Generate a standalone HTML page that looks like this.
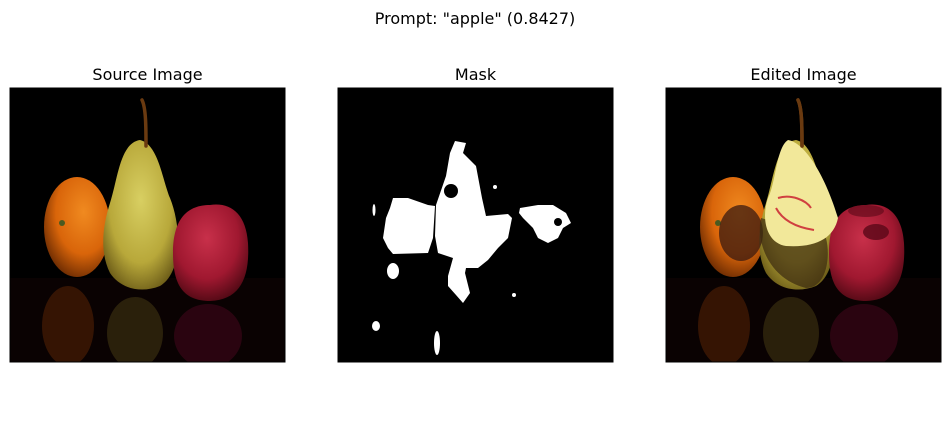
<!DOCTYPE html>
<html><head><meta charset="utf-8"><style>
html,body{margin:0;padding:0;background:#fff;width:950px;height:427px;overflow:hidden}
svg{display:block}
text{font-family:"DejaVu Sans","Liberation Sans",sans-serif;fill:#000}
</style></head><body>
<svg width="950" height="427" viewBox="0 0 950 427">
<defs>
<clipPath id="clp"><rect x="0" y="0" width="275" height="274"/></clipPath>
<radialGradient id="gOr" cx="0.6" cy="0.35" r="0.7"><stop offset="0" stop-color="#f08a20"/><stop offset="0.6" stop-color="#d9650a"/><stop offset="1" stop-color="#6a2a02"/></radialGradient>
<radialGradient id="gPe" cx="0.5" cy="0.4" r="0.7"><stop offset="0" stop-color="#d8cf62"/><stop offset="0.6" stop-color="#b8a83a"/><stop offset="1" stop-color="#5a4a10"/></radialGradient>
<radialGradient id="gAp" cx="0.45" cy="0.35" r="0.7"><stop offset="0" stop-color="#c8304a"/><stop offset="0.6" stop-color="#a01830"/><stop offset="1" stop-color="#4a0812"/></radialGradient>
<g id="fruits">
<rect x="0" y="0" width="275" height="275" fill="#000"/>
<rect x="0" y="190" width="275" height="85" fill="#0a0202"/>
<ellipse cx="58" cy="238" rx="26" ry="40" fill="#5a2406" opacity="0.55"/>
<ellipse cx="125" cy="245" rx="28" ry="36" fill="#4a3e14" opacity="0.5"/>
<ellipse cx="198" cy="248" rx="34" ry="32" fill="#40061a" opacity="0.6"/>
<ellipse cx="67" cy="139" rx="33" ry="50" fill="url(#gOr)"/>
<circle cx="52" cy="135" r="3" fill="#4a5a20"/>
<path d="M130,52 C148,56 152,90 160,110 C172,140 172,185 150,198 C130,206 110,200 100,185 C90,165 92,140 100,115 C108,90 110,55 130,52 Z" fill="url(#gPe)"/>
<path d="M132,12 C136,20 136,40 136,58" stroke="#6a3a10" stroke-width="3.5" fill="none" stroke-linecap="round"/>
<path d="M200,117 C220,114 236,125 238,155 C240,190 230,212 200,213 C172,213 163,195 163,165 C163,130 178,117 200,117 Z" fill="url(#gAp)"/>
</g>
</defs>

<text x="475" y="24" font-size="16" text-anchor="middle">Prompt: "apple" (0.8427)</text>

<text x="147.5" y="80" font-size="16" text-anchor="middle">Source Image</text>
<g transform="translate(10,88)">
<g clip-path="url(#clp)"><use href="#fruits"/></g>
<rect x="0" y="0" width="275" height="274" fill="none" stroke="#000" stroke-width="1"/>
</g>

<text x="475.5" y="80" font-size="16" text-anchor="middle">Mask</text>
<g transform="translate(338,88)">
<rect x="0" y="0" width="275" height="274" fill="#000"/>
<g fill="#fff">
<path d="M117,53 L128,55 L125,65 L138,78 L144,110 L148,128 L170,126 L174,130 L170,150 L160,160 L150,172 L140,180 L128,180 L127,185 L132,205 L125,215 L118,207 L110,198 L110,188 L115,170 L100,165 L97,148 L98,117 L108,88 L112,65 Z"/>
<path d="M55,110 L70,110 L90,117 L97,118 L95,150 L90,165 L55,166 L50,160 L45,150 L48,130 L52,120 Z"/>
<path d="M182,120 L200,117 L215,117 L228,125 L233,135 L225,140 L220,150 L210,155 L200,150 L195,140 L185,130 L181,125 Z"/>
<ellipse cx="55" cy="183" rx="6" ry="8"/>
<ellipse cx="38" cy="238" rx="4" ry="5"/>
<ellipse cx="99" cy="255" rx="3" ry="12"/>
<ellipse cx="36" cy="122" rx="1.5" ry="6"/>
<circle cx="157" cy="99" r="2"/>
<circle cx="176" cy="207" r="2"/>
</g>
<circle cx="113" cy="103" r="7" fill="#000"/>
<circle cx="220" cy="134" r="4" fill="#000"/>
<rect x="0" y="0" width="275" height="274" fill="none" stroke="#000" stroke-width="1"/>
</g>

<text x="803.5" y="80" font-size="16" text-anchor="middle">Edited Image</text>
<g transform="translate(666,88)">
<g clip-path="url(#clp)">
<use href="#fruits"/>
<ellipse cx="75" cy="145" rx="22" ry="28" fill="#3a1a10" opacity="0.75"/>
<path d="M95,130 C90,150 100,190 140,200 C160,200 165,170 160,150 Z" fill="#3a2a10" opacity="0.7"/>
<path d="M122,52 C140,55 160,90 172,130 C168,150 150,160 120,158 C100,155 95,130 102,110 C110,95 110,60 122,52 Z" fill="#f2e89a"/>
<path d="M112,110 C125,106 140,112 145,120" stroke="#d04040" stroke-width="2" fill="none"/>
<path d="M110,120 C118,135 135,140 148,142" stroke="#d04040" stroke-width="2" fill="none"/>
<path d="M132,12 C136,20 136,40 136,58" stroke="#6a3a10" stroke-width="3.5" fill="none" stroke-linecap="round"/>
<ellipse cx="210" cy="144" rx="13" ry="8" fill="#5a0818" opacity="0.8"/>
<ellipse cx="200" cy="123" rx="18" ry="6" fill="#5a0818" opacity="0.6"/>
</g>
<rect x="0" y="0" width="275" height="274" fill="none" stroke="#000" stroke-width="1"/>
</g>
</svg>
</body></html>
